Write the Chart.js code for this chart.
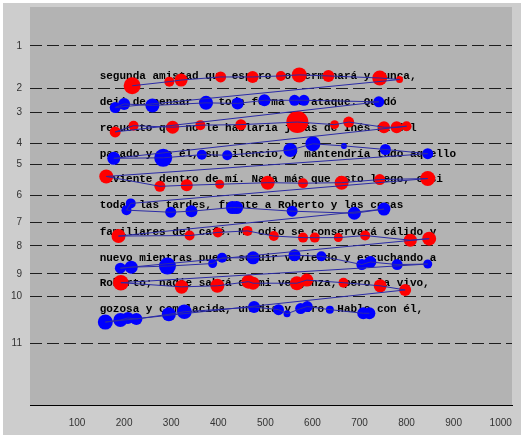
<!DOCTYPE html>
<html>
<head>
<meta charset="utf-8">
<script src="https://cdn.jsdelivr.net/npm/chart.js@4.4.0/dist/chart.umd.min.js"></script>
<style>
  html, body { margin: 0; padding: 0; background: #fff; }
  canvas { display: block; }
</style>
</head>
<body>
<canvas id="scanpath" width="528" height="441"></canvas>
<script>
// Texto leído (una entrada por renglón)
const textLines = [
  'segunda amistad que espero no terminará y nunca,',
  'dejé de pensar en toda forma de ataque. Quedó',
  'resuelto que no le hablaría jamás de Inés ni del',
  'pasado y de él, su silencio, y mantendría todo aquello',
  'viviente dentro de mí. Nada más que esto luego, casi',
  'todas las tardes, frente a Roberto y las cosas',
  'familiares del café. Mi odio se conservará cálido y',
  'nuevo mientras pueda seguir viviendo y escuchando a',
  'Roberto; nadie sabrá de mi venganza, pero la vivo,',
  'gozosa y complacida, un día y otro. Hablo con él,'
];
const textY = [133, 183, 234, 284, 333, 383, 434, 485, 533, 583];
const textX = 148;

// Fijaciones en coordenadas de pantalla (1024x768), en orden de lectura
const fixLine = [
  1,1,1,1,1,1,1,1,1,1,
  2,2,2,2,2,2,2,2,2,
  3,3,3,3,3,3,3,3,3,3,3,
  4,4,4,4,4,4,4,4,4,
  5,5,5,5,5,5,5,5,5,
  6,6,6,6,6,6,6,6,6,
  7,7,7,7,7,7,7,7,7,7,7,
  8,8,8,8,8,8,8,8,8,8,8,8,
  9,9,9,9,9,9,9,9,9,9,
  10,10,10,10,10,10,10,10,10,10,10,10,10,10
];
const fixX = [
  217,296,321,405,473,533,572,634,743,785,
  181,200,260,374,441,498,562,582,741,
  181,220,303,362,448,568,647,677,752,779,800,
  178,283,365,419,553,601,667,755,845,
  162,276,333,403,505,580,662,743,845,
  214,205,299,343,430,439,557,689,752,
  188,339,399,462,518,580,605,655,712,808,848,
  192,215,292,388,408,474,562,619,705,723,780,845,
  193,322,398,464,474,567,588,666,744,797,
  160,192,208,226,295,328,476,528,546,575,589,637,708,721
];
const fixY = [
  152,144,141,135,135,133,131,133,137,140,
  194,187,190,185,186,180,180,180,183,
  241,229,232,228,227,222,227,222,232,232,230,
  292,291,285,286,276,264,268,275,283,
  327,346,344,342,339,340,339,333,331,
  379,392,396,394,387,387,394,398,390,
  442,441,435,432,442,445,445,445,441,450,447,
  504,502,500,495,484,484,479,481,497,492,497,496,
  532,540,538,530,533,533,527,532,538,546,
  608,604,600,602,593,588,579,584,592,582,578,584,591,591
];
// radio de cada fijación (duración)
const fixR = [
  8.5,5,6.5,5.5,6,5,7.5,6,7.5,3.5,
  5.5,6,7,7,6,6,5.5,5.5,5.5,
  5.5,5,6.5,5,5.5,11,4.5,5.5,6,6,5,
  6.5,9,5,5,7,7.5,3,5.5,5.5,
  7,5.5,6,4.5,7,5,7,5.5,7.5,
  5,5,5.5,6,6.5,6.5,5.5,6.5,6.5,
  7,5,5,5,5,5,5,4.5,5,6.5,7,
  5.5,6.5,8.5,4.5,5,6.5,6,5,5.5,6,5.5,4.5,
  7.8,6.8,7,7,6.5,7,6.5,5,6.5,6,
  7.5,7,6,6,7,7.3,6,5.5,3.5,5.5,5.5,4,6,6
];

// Límites de renglón en el eje y
const yTickPos = [75, 157, 204, 263, 304, 363, 416, 461, 515, 559, 649];
const yTickLabels = ['1','2','3','4','5','6','7','8','9','10','11'];
const xTicks = [100, 200, 300, 400, 500, 600, 700, 800, 900, 1000];

const redPts = [], bluePts = [], path = [];
for (let i = 0; i < fixX.length; i++) {
  const p = { x: fixX[i], y: fixY[i], r: fixR[i] };
  if (fixLine[i] % 2 === 1) redPts.push(p); else bluePts.push(p);
  path.push({ x: fixX[i], y: fixY[i] });
}

const fondo = {
  id: 'fondo',
  beforeDraw(chart) {
    const { ctx, chartArea: a } = chart;
    ctx.save();
    ctx.fillStyle = '#fff';
    ctx.fillRect(0, 0, chart.width, chart.height);
    ctx.fillStyle = '#cdcdcd';
    ctx.fillRect(3, 3, 518, 432);
    ctx.fillStyle = '#b3b3b3';
    ctx.fillRect(a.left, a.top, a.right - a.left, a.bottom - a.top);
    ctx.restore();
  },
  beforeDatasetsDraw(chart) {
    const { ctx, scales: { x, y } } = chart;
    ctx.save();
    ctx.font = 'bold 11px "Liberation Mono"';
    ctx.fillStyle = '#000';
    ctx.textBaseline = 'middle';
    textLines.forEach((t, i) => {
      ctx.fillText(t, x.getPixelForValue(textX), y.getPixelForValue(textY[i]));
    });
    ctx.restore();
  }
};

new Chart(document.getElementById('scanpath'), {
  type: 'bubble',
  data: {
    datasets: [
      {
        type: 'scatter',
        data: path,
        showLine: true,
        borderColor: '#2b2ba6',
        borderWidth: 1,
        pointRadius: 0,
        order: 0
      },
      { data: redPts, backgroundColor: '#ff0000', borderWidth: 0, order: 1 },
      { data: bluePts, backgroundColor: '#0000ff', borderWidth: 0, order: 1 }
    ]
  },
  options: {
    responsive: false,
    animation: false,
    devicePixelRatio: 1,
    events: [],
    layout: { padding: { left: 0, top: 7, right: 16, bottom: 0 }, autoPadding: false },
    plugins: {
      legend: { display: false },
      tooltip: { enabled: false }
    },
    scales: {
      x: {
        type: 'linear',
        min: 0,
        max: 1024,
        afterBuildTicks: s => { s.ticks = xTicks.map(v => ({ value: v })); },
        afterFit: s => { s.height = 36; s.paddingLeft = 0; s.paddingRight = 0; },
        grid: { display: false },
        border: { display: true, color: '#000', width: 1 },
        ticks: {
          autoSkip: false,
          maxRotation: 0,
          padding: 4,
          color: '#333',
          font: { family: 'Liberation Sans', size: 10 },
          callback: v => String(v)
        }
      },
      y: {
        type: 'linear',
        min: 0,
        max: 768,
        reverse: true,
        afterBuildTicks: s => { s.ticks = yTickPos.map(v => ({ value: v })); },
        afterFit: s => { s.width = 30; s.paddingTop = 0; s.paddingBottom = 0; },
        grid: { color: '#1e1e1e', lineWidth: 1, drawTicks: false },
        border: { display: false, dash: [12, 5] },
        ticks: {
          padding: 8,
          color: '#333',
          font: { family: 'Liberation Sans', size: 10 },
          callback: (v, i) => yTickLabels[i]
        }
      }
    }
  },
  plugins: [fondo]
});
</script>
</body>
</html>
